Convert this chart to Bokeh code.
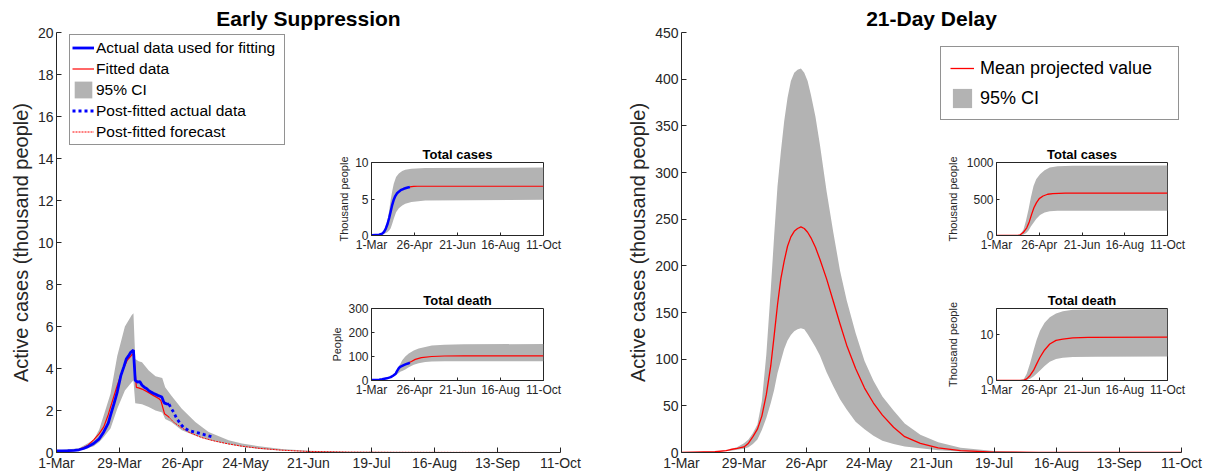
from bokeh.plotting import figure
from bokeh.models import FixedTicker, Legend, LegendItem, GridBox
from bokeh.embed import file_html
from bokeh.resources import INLINE

FONT = "Liberation Sans"
AX = "#262626"
GRAY = "#b3b3b3"
BLUE = "#0000ff"
RED = "#ff0000"

# ---------------- tick labels ----------------
main_tick_days = [0, 28, 56, 84, 112, 140, 168, 196, 224]
main_tick_labels = ["1-Mar", "29-Mar", "26-Apr", "24-May", "21-Jun", "19-Jul", "16-Aug", "13-Sep", "11-Oct"]
inset_tick_days = [0, 56, 112, 168, 224]
inset_tick_labels = ["1-Mar", "26-Apr", "21-Jun", "16-Aug", "11-Oct"]

# ---------------- Early Suppression: active cases (thousand) ----------------
es_fit_day = [0, 5, 8, 10, 12, 14, 16.5, 19, 21, 23, 24, 25.5, 27, 28.6, 30, 31, 32, 33, 34.2, 35,
              36, 37, 38, 39, 40, 41, 42, 43, 44, 45, 46, 46.8, 47.5, 48, 49, 50]
es_fit_val = [0.08, 0.09, 0.1, 0.13, 0.19, 0.28, 0.43, 0.65, 0.98, 1.4, 1.77, 2.3, 2.88, 3.66, 4.1, 4.45, 4.6, 4.77, 4.88, 3.43,
              3.35, 3.38, 3.2, 3.11, 3.05, 2.95, 2.88, 2.82, 2.77, 2.72, 2.68, 2.64, 2.45, 2.35, 2.32, 2.3]
es_post_day = [50, 51, 52, 53.5, 55.7, 57, 58.6, 61, 63, 66, 68, 70]
es_post_val = [2.3, 2.1, 1.93, 1.6, 1.29, 1.15, 1.06, 0.98, 0.93, 0.84, 0.78, 0.72]
es_model_day = [0, 5, 8, 10, 12, 14, 16.5, 19, 21, 23, 24.7, 27, 29.3, 31.5, 33.8, 34.4, 35.5, 36.5, 38, 41,
                43, 45.6, 46.4, 48, 49.6, 50]
es_model_val = [0.05, 0.07, 0.1, 0.15, 0.23, 0.35, 0.6, 0.9, 1.22, 1.8, 2.4, 3.19, 3.9, 4.4, 4.69, 4.6, 3.1, 3.08, 3.02, 2.85,
                2.72, 2.56, 2.47, 1.85, 1.72, 1.68]
es_fc_day = [50, 52, 55, 58.6, 64.5, 70.5, 76.4, 82.4, 90, 100, 112, 130, 150, 224]
es_fc_val = [1.68, 1.45, 1.22, 0.98, 0.71, 0.54, 0.41, 0.3, 0.2, 0.11, 0.05, 0.02, 0.01, 0.0]
es_ci_day = [0, 10, 16.5, 19, 21, 24, 27, 30.4, 33.4, 34.2, 35, 36.5, 38, 41, 44, 47, 48.3, 51, 55.7, 61.7,
             67.6, 76.5, 82.4, 90, 100, 112, 130, 224]
es_ci_hi = [0.1, 0.2, 0.6, 1.1, 1.77, 2.8, 4.6, 6.0, 6.54, 6.63, 4.45, 4.35, 4.3, 3.9, 3.63, 3.55, 3.11, 2.72, 2.08, 1.45,
            0.98, 0.58, 0.43, 0.3, 0.17, 0.08, 0.03, 0.0]
es_ci_lo = [0.0, 0.08, 0.3, 0.5, 0.74, 1.14, 2.08, 2.95, 3.35, 3.43, 2.35, 2.32, 2.3, 2.17, 2.0, 1.9, 1.6, 1.45, 1.06, 0.8,
            0.6, 0.38, 0.27, 0.17, 0.09, 0.04, 0.01, 0.0]

# Early Suppression insets
es_tc_act_day = [0, 10, 14, 16.3, 18.5, 20.6, 23, 25, 27, 29, 31, 33, 35.6, 38, 42, 45, 48.5, 50]
es_tc_act_val = [0.05, 0.1, 0.25, 0.5, 0.9, 1.5, 2.4, 3.3, 4.2, 4.9, 5.4, 5.75, 6.0, 6.2, 6.4, 6.5, 6.6, 6.65]
es_tc_fc_day = [50, 55, 60, 224]
es_tc_fc_val = [6.65, 6.72, 6.75, 6.75]
es_tc_ci_day = [0, 14, 17, 20.6, 23, 25, 27, 29, 32, 35.6, 40, 44, 52, 70, 224]
es_tc_ci_hi = [0.05, 0.3, 0.9, 2.0, 3.4, 4.9, 6.1, 7.1, 8.0, 8.5, 8.85, 9.0, 9.15, 9.25, 9.3]
es_tc_ci_lo = [0.03, 0.15, 0.25, 0.45, 0.7, 1.0, 1.6, 2.3, 3.2, 3.75, 4.1, 4.35, 4.6, 4.8, 4.9]

es_td_act_day = [0, 10, 14, 20, 25, 28, 31.5, 33, 35.6, 38, 42, 45, 48.5, 50]
es_td_act_val = [2, 3, 5, 9, 14, 20, 28, 38, 52, 58, 64, 68, 72, 74]
es_td_fc_day = [48, 52, 57, 65, 78.5, 95, 120, 224]
es_td_fc_val = [73, 79, 88, 95, 100, 102, 103, 103]
es_td_ci_day = [0, 20, 28, 31.5, 35, 38, 40, 44, 48.5, 55, 61.4, 70, 78.5, 95, 120, 224]
es_td_ci_hi = [2, 10, 22, 35, 55, 72, 84, 100, 112, 125, 133, 140, 146, 149, 151, 152]
es_td_ci_lo = [1, 7, 15, 22, 30, 37, 40, 46, 55, 66, 72, 77, 79, 80, 80, 80]

# ---------------- 21-Day Delay: active cases (thousand) ----------------
dd_day = [0, 15, 20, 22, 25, 28, 30, 32, 34, 36, 38, 40, 41.5, 43, 44.5, 46, 47.5, 49, 50.5, 52,
          53.5, 55, 56.5, 58, 60, 62, 65, 68, 71, 74, 78, 82, 86, 90, 95, 100, 107, 115, 125, 140, 160, 224]
dd_mean = [0, 0.8, 2, 3.2, 4.5, 6, 10, 17, 25, 39, 62, 93, 125, 158, 186, 205, 221, 231, 237, 240,
           241.7, 240, 236, 230, 220, 207, 186, 162, 138, 115, 90, 69, 53, 40, 27, 17, 9.8, 5, 2, 0.5, 0.1, 0]
dd_hi = [0, 1, 2.5, 3.5, 6, 10, 14, 21, 30, 55, 105, 175, 232, 285, 322, 355, 380, 398, 407, 410,
         411.4, 407, 398, 383, 360, 330, 280, 236, 195, 163, 128, 98, 77, 60, 45, 31, 19, 11, 5, 1.5, 0.3, 0]
dd_lo = [0, 0.5, 1.5, 2, 3, 4, 5.5, 9, 14, 24, 37, 53, 67, 85, 98, 111, 120, 126, 130, 132,
         133, 132, 127, 121, 113, 104, 86, 71, 57, 46, 33, 25, 18, 12.5, 9, 6.5, 4.5, 2.5, 1.2, 0.4, 0.1, 0]

# 21-Day Delay insets
dd_tc_day = [0, 20, 28, 31, 35, 39.6, 43, 46, 49, 52.4, 56, 61, 67, 73.8, 90, 224]
dd_tc_mean = [0, 1, 3, 10, 40, 105, 190, 289, 380, 450, 505, 541, 565, 575, 580, 580]
dd_tc_ci_day = [0, 20, 28, 31, 35.4, 38.5, 42, 45, 48.5, 52, 57, 63, 69.8, 80, 100, 224]
dd_tc_hi = [0, 1.5, 5, 15, 82, 200, 358, 520, 678, 770, 839, 895, 930, 950, 957, 958]
dd_tc_lo = [0, 0.5, 1, 3, 15, 30, 70, 125, 174, 225, 280, 315, 333, 340, 340, 340]

dd_td_day = [0, 30, 36, 39.6, 44, 48.5, 52.5, 57, 63, 69.8, 78, 86.9, 100, 120, 224]
dd_td_mean = [0, 0.02, 0.1, 0.36, 1.1, 2.2, 3.6, 5.1, 6.7, 8.0, 8.8, 9.1, 9.35, 9.45, 9.5]
dd_td_ci_day = [0, 30, 36, 39.6, 44, 48.5, 52.5, 57, 63, 69.8, 78, 87, 100, 130, 224]
dd_td_hi = [0, 0.05, 0.4, 1.5, 3.8, 6.6, 8.9, 10.9, 12.7, 13.9, 14.7, 15.2, 15.5, 15.65, 15.7]
dd_td_lo = [0, 0.01, 0.03, 0.1, 0.4, 0.9, 1.5, 2.2, 3.2, 4.1, 4.7, 5.0, 5.15, 5.2, 5.25]

# ---------------- helpers ----------------
H = 473
FRAME_TOP = 32
FRAME_BOTTOM = 453


def style_common(p, xticks, xlabels, yticks, tick_font, tick_len):
    p.xgrid.visible = False
    p.ygrid.visible = False
    p.xaxis.ticker = FixedTicker(ticks=xticks)
    p.xaxis.major_label_overrides = {t: l for t, l in zip(xticks, xlabels)}
    p.yaxis.ticker = FixedTicker(ticks=yticks)
    for ax in p.xaxis + p.yaxis:
        ax.major_tick_in = tick_len
        ax.major_tick_out = 0
        ax.minor_tick_line_color = None
        ax.axis_line_color = AX
        ax.major_tick_line_color = AX
        ax.major_label_text_color = AX
        ax.major_label_text_font = FONT
        ax.major_label_text_font_size = tick_font
        ax.axis_label_text_font = FONT
        ax.axis_label_text_font_style = "normal"
        ax.axis_label_text_color = AX


def main_fig(width, border_left, frame_w, ymax, yticks, title):
    p = figure(width=width, height=H, x_range=(0, 224), y_range=(0, ymax),
               output_backend="svg", toolbar_location=None, title=title,
               min_border_left=border_left, min_border_right=width - border_left - frame_w,
               min_border_top=FRAME_TOP, min_border_bottom=H - FRAME_BOTTOM)
    p.outline_line_color = None
    p.background_fill_color = "white"
    p.border_fill_color = "white"
    p.title.text_font = FONT
    p.title.text_font_size = "21px"
    p.title.text_font_style = "bold"
    p.title.text_color = "black"
    p.title.align = "center"
    p.title.standoff = 5
    style_common(p, main_tick_days, main_tick_labels, yticks, "14px", 5)
    p.xaxis.major_label_standoff = 2
    p.yaxis.major_label_standoff = 3
    p.yaxis.axis_label = "Active cases (thousand people)"
    p.yaxis.axis_label_text_font_size = "20px"
    p.yaxis.axis_label_standoff = 3
    return p


def inset_fig(bl, fw, br, fh, ymax, yticks, title, ylabel, ylab_standoff):
    p = figure(width=bl + fw + br, height=19 + fh + 20, x_range=(0, 224), y_range=(0, ymax),
               output_backend="svg", toolbar_location=None, title=title,
               min_border_left=bl, min_border_right=br, min_border_top=19, min_border_bottom=20)
    p.background_fill_color = "white"
    p.border_fill_color = None
    p.outline_line_color = AX
    p.title.text_font = FONT
    p.title.text_font_size = "13px"
    p.title.text_font_style = "bold"
    p.title.text_color = "black"
    p.title.align = "center"
    p.title.standoff = 2
    style_common(p, inset_tick_days, inset_tick_labels, yticks, "12px", 3)
    p.xaxis.major_label_standoff = 2
    p.yaxis.major_label_standoff = 3
    p.yaxis.axis_label = ylabel
    p.yaxis.axis_label_text_font_size = "11px"
    p.yaxis.axis_label_standoff = ylab_standoff
    return p


# ---------------- left main ----------------
pl = main_fig(600, 56, 504, 20, list(range(0, 21, 2)), "Early Suppression")
r_ci = pl.varea(x=es_ci_day, y1=es_ci_lo, y2=es_ci_hi, fill_color=GRAY, fill_alpha=1)
r_fit = pl.line(es_model_day, es_model_val, line_color=RED, line_width=1.2)
r_fc = pl.line(es_fc_day, es_fc_val, line_color=RED, line_width=1, line_dash="2 1")
r_act = pl.line(es_fit_day, es_fit_val, line_color=BLUE, line_width=2.8)
r_post = pl.line(es_post_day, es_post_val, line_color=BLUE, line_width=2.8, line_dash="3 3")
leg_l = Legend(items=[
    LegendItem(label="Actual data used for fitting", renderers=[r_act]),
    LegendItem(label="Fitted data", renderers=[r_fit]),
    LegendItem(label="95% CI", renderers=[r_ci]),
    LegendItem(label="Post-fitted actual data", renderers=[r_post]),
    LegendItem(label="Post-fitted forecast", renderers=[r_fc]),
], location=(13, 307))
leg_l.padding = 2
leg_l.spacing = 0
leg_l.margin = 0
leg_l.glyph_width = 22
leg_l.glyph_height = 21
leg_l.label_height = 21
leg_l.label_standoff = 2
leg_l.label_width = 186
leg_l.label_text_font = FONT
leg_l.label_text_font_size = "15.5px"
leg_l.label_text_color = "black"
leg_l.border_line_color = AX
leg_l.border_line_width = 1
leg_l.background_fill_color = "white"
leg_l.background_fill_alpha = 1
pl.add_layout(leg_l, "center")

# ---------------- right main ----------------
pr = main_fig(605, 81, 500, 450, list(range(0, 451, 50)), "21-Day Delay")
r_ci2 = pr.varea(x=dd_day, y1=dd_lo, y2=dd_hi, fill_color=GRAY, fill_alpha=1)
r_mean2 = pr.line(dd_day, dd_mean, line_color=RED, line_width=1.3)
leg_r = Legend(items=[
    LegendItem(label="Mean projected value", renderers=[r_mean2]),
    LegendItem(label="95% CI", renderers=[r_ci2]),
], location=(259, 332))
leg_r.padding = 9
leg_r.spacing = 6
leg_r.margin = 0
leg_r.glyph_width = 24
leg_r.glyph_height = 24
leg_r.label_height = 24
leg_r.label_standoff = 6
leg_r.label_width = 189
leg_r.label_text_font = FONT
leg_r.label_text_font_size = "18px"
leg_r.label_text_color = "black"
leg_r.border_line_color = AX
leg_r.border_line_width = 1
leg_r.background_fill_color = "white"
leg_r.background_fill_alpha = 1
pr.add_layout(leg_r, "center")

# ---------------- insets ----------------
i1 = inset_fig(41, 174, 25, 73, 10, [0, 5, 10], "Total cases", "Thousand people", 2)
i1.varea(x=es_tc_ci_day, y1=es_tc_ci_lo, y2=es_tc_ci_hi, fill_color=GRAY)
i1.line(es_tc_fc_day, es_tc_fc_val, line_color=RED, line_width=1.2)
i1.line(es_tc_act_day, es_tc_act_val, line_color=BLUE, line_width=2.5)

i2 = inset_fig(41, 174, 25, 72, 300, [0, 100, 200, 300], "Total death", "People", 2)
i2.varea(x=es_td_ci_day, y1=es_td_ci_lo, y2=es_td_ci_hi, fill_color=GRAY)
i2.line(es_td_fc_day, es_td_fc_val, line_color=RED, line_width=1.2)
i2.line(es_td_act_day, es_td_act_val, line_color=BLUE, line_width=2.5)

i3 = inset_fig(49, 175, 28, 73, 1000, [0, 500, 1000], "Total cases", "Thousand people", 5)
i3.varea(x=dd_tc_ci_day, y1=dd_tc_lo, y2=dd_tc_hi, fill_color=GRAY)
i3.line(dd_tc_day, dd_tc_mean, line_color=RED, line_width=1.3)

i4 = inset_fig(49, 175, 28, 72, 15.8, [0, 10], "Total death", "Thousand people", 18)
i4.varea(x=dd_td_ci_day, y1=dd_td_lo, y2=dd_td_hi, fill_color=GRAY)
i4.line(dd_td_day, dd_td_mean, line_color=RED, line_width=1.3)

# grid tracks chosen so that no inset shares an outer grid line with a main panel
grid = GridBox(children=[(pl, 0, 0, 4, 3), (pr, 0, 3, 4, 3),
                         (i1, 1, 1), (i2, 2, 1), (i3, 1, 4), (i4, 2, 4)],
               cols=["328px", "240px", "32px", "343px", "252px", "10px"],
               rows=["143px", "146px", "111px", "73px"])

open("out.html", "w").write(file_html(grid, INLINE))
